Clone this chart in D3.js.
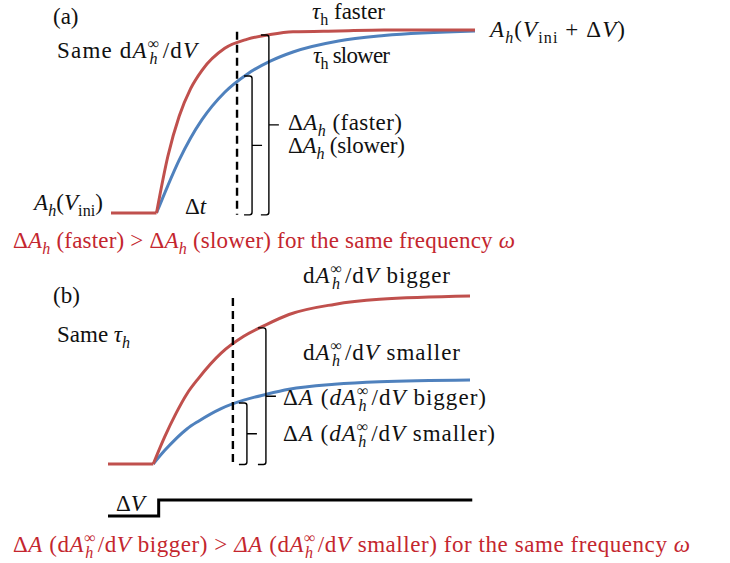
<!DOCTYPE html>
<html>
<head>
<meta charset="utf-8">
<script src="https://cdn.jsdelivr.net/npm/d3@7"></script>
<style>
  body { margin: 0; background: #fff; }
  svg { display: block; }
  text { font-family: "Liberation Serif", "DejaVu Serif", serif; fill: #111; }
</style>
</head>
<body>
<svg id="chart"></svg>
<script>
// time samples after the step (arbitrary units, step at t = 0)
const times = [0, 0.25, 0.5, 0.75, 1, 1.5, 2, 2.5, 3, 4, 5, 7];
const preTimes = [-1, 0];

// panel (a): normalised A_h, same amplitude, different tau_h
const fasterA = [0, 0.31, 0.53, 0.68, 0.78, 0.90, 0.95, 0.975, 0.99, 0.995, 1.0, 1.0];
const slowerA = [0, 0.15, 0.29, 0.41, 0.51, 0.66, 0.76, 0.83, 0.88, 0.94, 0.97, 0.995];

// panel (b): same tau_h, different amplitude
const biggerB = [0, 0.16, 0.30, 0.42, 0.51, 0.66, 0.76, 0.83, 0.89, 0.95, 0.98, 1.0];
const smallerB = [0, 0.08, 0.15, 0.21, 0.255, 0.33, 0.38, 0.415, 0.445, 0.475, 0.49, 0.5];

// voltage step (panel b)
const stepTimes = [-1, 0.12, 0.12, 7.05];
const stepLevels = [0, 0, 1, 1];

// sampling instant and the two Delta brackets per panel
const probeA = { t: 1.77, from: -0.01, to: 0.99 };
const probeB = { t: 1.76, from: -0.006, to: 0.988 };
const bracketsA = [{ t: 2.10, top: 0.749, bottom: -0.01 }, { t: 2.47, top: 0.973, bottom: -0.01 }];
const bracketsB = [{ t: 2.07, top: 0.363, bottom: -0.003 }, { t: 2.49, top: 0.81, bottom: -0.003 }];

const width = 730, height = 563;
const RED = "#c0504d", BLUE = "#4f81bd", TEXT_RED = "#c4262e";

const svg = d3.select("#chart").attr("width", width).attr("height", height);

const xA = d3.scaleLinear().domain([-1, 7]).range([111, 475]);
const yA = d3.scaleLinear().domain([0, 1]).range([213, 30]);
const xB = d3.scaleLinear().domain([-1, 7]).range([108, 470]);
const yB = d3.scaleLinear().domain([0, 1]).range([464, 296]);
const yStep = d3.scaleLinear().domain([0, 1]).range([516, 500]);

function drawPanel(x, y, lower, upper, probe, brackets) {
  const g = svg.append("g");
  const curve = d3.line().x(d => x(d[0])).y(d => y(d[1])).curve(d3.curveMonotoneX);
  const flat = d3.line().x(d => x(d)).y(() => y(0));

  // blue first, red on top
  g.append("path")
    .attr("d", curve(d3.zip(times, lower)))
    .attr("fill", "none").attr("stroke", BLUE).attr("stroke-width", 3);
  g.append("path")
    .attr("d", curve(d3.zip(times, upper)))
    .attr("fill", "none").attr("stroke", RED).attr("stroke-width", 3);
  g.append("path")
    .attr("d", flat(preTimes))
    .attr("fill", "none").attr("stroke", RED).attr("stroke-width", 3);

  g.append("line")
    .attr("x1", x(probe.t)).attr("x2", x(probe.t))
    .attr("y1", y(probe.to)).attr("y2", y(probe.from))
    .attr("stroke", "#000").attr("stroke-width", 2.4)
    .attr("stroke-dasharray", "8,5");

  brackets.forEach(b => {
    const bx = x(b.t), y1 = y(b.top), y2 = y(b.bottom), ym = (y1 + y2) / 2;
    const hook = 8, r = 2.5, tick = 10;
    const p = d3.path();
    p.moveTo(bx - hook, y1);
    p.lineTo(bx - r, y1);
    p.quadraticCurveTo(bx, y1, bx, y1 + r);
    p.lineTo(bx, y2 - r);
    p.quadraticCurveTo(bx, y2, bx - r, y2);
    p.lineTo(bx - hook, y2);
    p.moveTo(bx, ym);
    p.lineTo(bx + tick, ym);
    g.append("path").attr("d", p.toString())
      .attr("fill", "none").attr("stroke", "#000").attr("stroke-width", 1.4);
  });
  return g;
}

drawPanel(xA, yA, slowerA, fasterA, probeA, bracketsA);
drawPanel(xB, yB, smallerB, biggerB, probeB, bracketsB);

const stepLine = d3.line().x(d => xB(d[0])).y(d => yStep(d[1]));
svg.append("path")
  .attr("d", stepLine(d3.zip(stepTimes, stepLevels)))
  .attr("fill", "none").attr("stroke", "#000").attr("stroke-width", 3);

// text with simple math: parts = [{s, i, sub, sup, dx}], optionally fitted to the reference width
const FS = 23;
function mathText(px, py, w, parts, color = "#111", size = FS) {
  const t = svg.append("text").attr("x", px).attr("y", py)
    .style("font-size", size + "px").style("fill", color);
  let shift = 0;
  parts.forEach(p => {
    const s = t.append("tspan").text(p.s);
    const want = p.sub ? size * 0.28 : p.sup ? -size * 0.4 : 0;
    if (want !== shift) { s.attr("dy", want - shift); shift = want; }
    if (p.i) s.style("font-style", "italic");
    if (p.sub || p.sup) s.style("font-size", "70%");
    if (p.dx) s.attr("dx", p.dx);
  });
  if (w) t.attr("textLength", w).attr("lengthAdjust", "spacing");
  return t;
}

const dAdV = (dItalic) => [
  { s: "d", i: dItalic }, { s: "A", i: true }, { s: "∞", sup: true },
  { s: "h", i: true, sub: true, dx: -11 }, { s: "/d", dx: 4 }, { s: "V", i: true }
];

// panel (a) labels
mathText(53, 24, null, [{ s: "(a)" }]);
mathText(57, 58, 140, [{ s: "Same " }, ...dAdV(false)]);
mathText(312, 19, 73, [{ s: "τ", i: true }, { s: "h", sub: true }, { s: " faster" }]);
mathText(313, 63, 77, [{ s: "τ", i: true }, { s: "h", sub: true }, { s: " slower" }]);
mathText(490, 37, 135, [{ s: "A", i: true }, { s: "h", i: true, sub: true }, { s: "(" }, { s: "V", i: true },
  { s: "ini", sub: true }, { s: " + Δ" }, { s: "V", i: true }, { s: ")" }]);
mathText(288, 130, 114, [{ s: "Δ" }, { s: "A", i: true }, { s: "h", i: true, sub: true }, { s: " (faster)" }]);
mathText(288, 153, 117, [{ s: "Δ" }, { s: "A", i: true }, { s: "h", i: true, sub: true }, { s: " (slower)" }]);
mathText(34, 210, 69, [{ s: "A", i: true }, { s: "h", i: true, sub: true }, { s: "(" }, { s: "V", i: true },
  { s: "ini", sub: true }, { s: ")" }]);
mathText(185, 214, null, [{ s: "Δ" }, { s: "t", i: true }]);
mathText(13, 248, 502, [{ s: "Δ" }, { s: "A", i: true }, { s: "h", i: true, sub: true }, { s: " (faster) > Δ" },
  { s: "A", i: true }, { s: "h", i: true, sub: true }, { s: " (slower) for the same frequency " },
  { s: "ω", i: true }], TEXT_RED);

// panel (b) labels
mathText(53, 303, null, [{ s: "(b)" }]);
mathText(57, 342, null, [{ s: "Same " }, { s: "τ", i: true }, { s: "h", i: true, sub: true }]);
mathText(303, 283, 147, [...dAdV(false), { s: " bigger" }]);
mathText(303, 360, 157, [...dAdV(false), { s: " smaller" }]);
mathText(283, 405, 203, [{ s: "Δ" }, { s: "A", i: true }, { s: " (" }, ...dAdV(true), { s: " bigger)" }]);
mathText(283, 441, 212, [{ s: "Δ" }, { s: "A", i: true }, { s: " (" }, ...dAdV(true), { s: " smaller)" }]);
mathText(116, 511, null, [{ s: "Δ" }, { s: "V", i: true }]);
mathText(13, 552, 677, [{ s: "Δ" }, { s: "A", i: true }, { s: " (" }, ...dAdV(false), { s: " bigger) > " },
  { s: "ΔA", i: true }, { s: " (" }, ...dAdV(false), { s: " smaller) for the same frequency " },
  { s: "ω", i: true }], TEXT_RED);
</script>
</body>
</html>
